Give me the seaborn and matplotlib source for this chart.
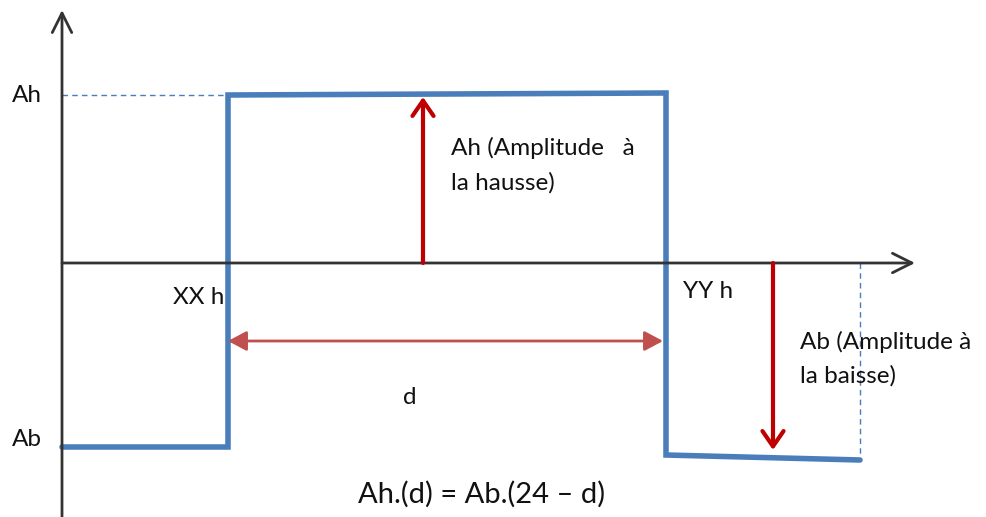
import matplotlib
matplotlib.use("Agg")
import matplotlib.pyplot as plt
import seaborn as sns
import pandas as pd

# ---- data (diagram coordinates, image-like units) ----
signal_x = [62, 228, 228, 666, 666, 860]
signal_y = [447, 447, 95, 93, 455, 460]
origin = (62, 263)
x_axis_end = 915
y_axis_end = 10
ah_level = 95
ab_level = 447
up_arrow_x = 423
down_arrow_x = 773
d_start, d_end, d_y = 228, 663, 341
dash_end_x = 860

sns.set_theme(style="white")
plt.rcParams['font.family'] = ['Lato', 'DejaVu Sans']

fig = plt.figure(figsize=(9.86, 5.17), dpi=100)
ax = fig.add_axes([0, 0, 1, 1])
ax.set_xlim(0, 986)
ax.set_ylim(517, 0)
ax.axis('off')

df = pd.DataFrame({"x": signal_x, "y": signal_y})

axis_col = "#333333"
blue = "#4a7ebb"
red = "#c00000"
red2 = "#c0504d"

# axes arrows
ax.annotate("", xy=(origin[0], y_axis_end), xytext=(origin[0], 517),
            arrowprops=dict(arrowstyle="->,head_length=0.7,head_width=0.35",
                            color=axis_col, lw=2, mutation_scale=20, shrinkA=0, shrinkB=0))
ax.annotate("", xy=(x_axis_end, origin[1]), xytext=(origin[0], origin[1]),
            arrowprops=dict(arrowstyle="->,head_length=0.7,head_width=0.35",
                            color=axis_col, lw=2, mutation_scale=20, shrinkA=0, shrinkB=0))

# dashed helper lines
ax.plot([origin[0], signal_x[1]], [ah_level, ah_level], color=blue, lw=1, ls=(0, (4, 3)))
ax.plot([dash_end_x, dash_end_x], [origin[1], signal_y[-1]], color=blue, lw=1, ls=(0, (4, 3)))

# signal
sns.lineplot(data=df, x="x", y="y", sort=False, estimator=None, color=blue,
             lw=4, ax=ax, solid_joinstyle="miter")

# amplitude arrows
ax.annotate("", xy=(up_arrow_x, signal_y[2] + 2), xytext=(up_arrow_x, origin[1]),
            arrowprops=dict(arrowstyle="->,head_length=0.55,head_width=0.38",
                            color=red, lw=3, mutation_scale=20, shrinkA=0, shrinkB=0))
ax.annotate("", xy=(down_arrow_x, 450), xytext=(down_arrow_x, origin[1]),
            arrowprops=dict(arrowstyle="->,head_length=0.55,head_width=0.38",
                            color=red, lw=3, mutation_scale=20, shrinkA=0, shrinkB=0))

# duration arrow
ax.annotate("", xy=(d_end, d_y), xytext=(d_start, d_y),
            arrowprops=dict(arrowstyle="<|-|>,head_length=0.75,head_width=0.4",
                            color=red2, lw=2, mutation_scale=15, shrinkA=0, shrinkB=0))

fs = 17.5
tc = "#111111"
ax.text(12, ah_level, "Ah", fontsize=fs, va="center", ha="left", color=tc)
ax.text(12, 440, "Ab", fontsize=fs, va="center", ha="left", color=tc)
ax.text(173, 297, "XX h", fontsize=fs, va="center", ha="left", color=tc)
ax.text(683, 292, "YY h", fontsize=fs, va="center", ha="left", color=tc)
ax.text(451, 148, "Ah (Amplitude   à", fontsize=fs, va="center", ha="left", color=tc)
ax.text(451, 183, "la hausse)", fontsize=fs, va="center", ha="left", color=tc)
ax.text(800, 342, "Ab (Amplitude à", fontsize=fs, va="center", ha="left", color=tc)
ax.text(800, 376, "la baisse)", fontsize=fs, va="center", ha="left", color=tc)
ax.text(403, 397, "d", fontsize=fs, va="center", ha="left", color=tc)
ax.text(358, 494, "Ah.(d) = Ab.(24 – d)", fontsize=21, va="center", ha="left", color=tc)

fig.savefig("out.png", dpi=100)
